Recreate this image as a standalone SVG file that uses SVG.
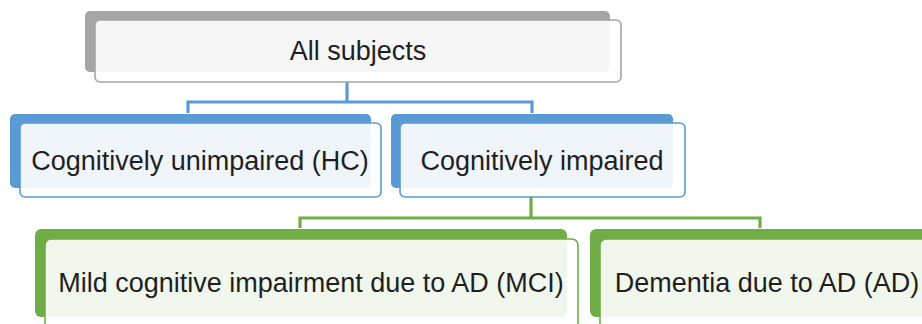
<svg xmlns="http://www.w3.org/2000/svg" width="922" height="324" viewBox="0 0 922 324">
<style>
.t{font-family:"Liberation Sans",Arial,sans-serif;font-size:27px;fill:#1f1f1f;text-anchor:middle}
.front{fill:#ffffff;fill-opacity:0.9;stroke-width:1.6}
.conn{fill:none;stroke-width:3.2}
</style>
<rect width="922" height="324" fill="#ffffff"/>
<g id="connectors">
<path class="conn" stroke="#5B9BD5" d="M347,80 V102 M188,113 V102 H532 V113"/>
<path class="conn" stroke="#70AD47" d="M531,196 V218 M300,228 V218 H760 V228"/>
</g>
<g id="node-all">
<rect x="85" y="11" width="525" height="61" rx="5" fill="#A5A5A5"/>
<rect class="front" x="95" y="20" width="526" height="62" rx="5" stroke="#A5A5A5"/>
<text class="t" x="358" y="60">All subjects</text>
</g>
<g id="node-hc">
<rect x="10" y="114" width="361" height="74" rx="5" fill="#5B9BD5"/>
<rect class="front" x="20" y="123" width="361" height="74" rx="5" stroke="#5B9BD5"/>
<text class="t" x="200" y="170">Cognitively unimpaired (HC)</text>
</g>
<g id="node-ci">
<rect x="391" y="114" width="282" height="74" rx="5" fill="#5B9BD5"/>
<rect class="front" x="400" y="123" width="285" height="74" rx="5" stroke="#5B9BD5"/>
<text class="t" x="542" y="170">Cognitively impaired</text>
</g>
<g id="node-mci">
<rect x="35" y="229" width="532" height="88" rx="6" fill="#70AD47"/>
<rect class="front" x="45" y="239" width="533" height="95" rx="6" stroke="#70AD47"/>
<text class="t" x="311" y="292">Mild cognitive impairment due to AD (MCI)</text>
</g>
<g id="node-ad">
<rect x="590" y="229" width="360" height="88" rx="6" fill="#70AD47"/>
<rect class="front" x="600" y="239" width="360" height="95" rx="6" stroke="#70AD47"/>
<text class="t" x="767" y="292">Dementia due to AD (AD)</text>
</g>
</svg>
